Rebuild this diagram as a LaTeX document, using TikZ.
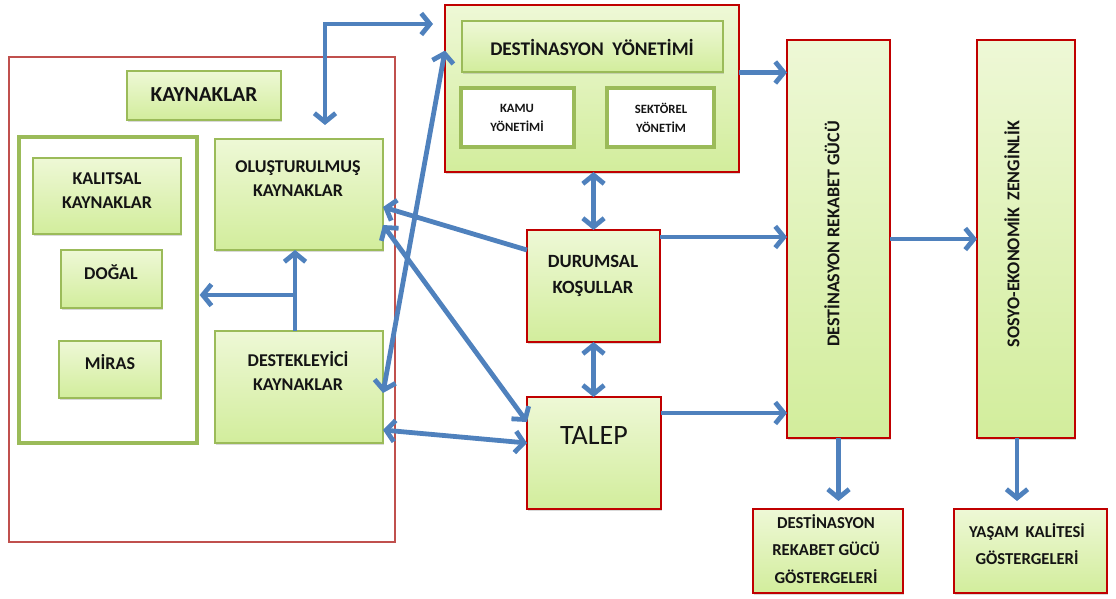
\documentclass[tikz,border=0pt]{standalone}
\usepackage{fontspec}
\setmainfont{Carlito}
\usetikzlibrary{arrows.meta,fit,shadows}
\definecolor{arrblue}{HTML}{4F81BD}
\definecolor{ogreen}{HTML}{9BBB59}
\definecolor{dred}{HTML}{C00000}
\definecolor{framec}{HTML}{C0504D}
\definecolor{gtop}{HTML}{EEF8D6}
\definecolor{gbot}{HTML}{D2ED9C}
\definecolor{txt}{HTML}{141414}
\tikzset{
  bh/.tip={Straight Barb[length=6.5pt,width=16pt]},
  base/.style={inner sep=0pt, outer sep=0pt, drop shadow={opacity=0.3,shadow xshift=0.8pt,shadow yshift=-1.8pt}},
  gbox/.style={base, draw=ogreen, line width=1.6pt, top color=gtop, bottom color=gbot},
  rbox/.style={base, draw=dred, line width=1.6pt, top color=gtop, bottom color=gbot},
  wbox/.style={inner sep=0pt, outer sep=0pt, draw=ogreen, line width=3.5pt, fill=white},
  framebox/.style={draw=framec, line width=1.2pt, inner sep=0pt, outer sep=0pt},
  lbl/.style={font=\bfseries\fontsize{13.5}{18}\selectfont, align=center, text=txt, inner sep=0pt},
  arr/.style={draw=arrblue, line width=3.6pt, -bh},
  barr/.style={draw=arrblue, line width=3.6pt, bh-bh},
}
\begin{document}
\begin{tikzpicture}[x=0.75pt,y=-0.75pt]
\useasboundingbox (0,0) rectangle (1116,599);
% boxes
\node[framebox, fit={(9,57) (395,542)}] (res) {};
\node[gbox, fit={(127,71) (281,120)}] (kay) {};
\node[wbox, fit={(19,137) (197,443)}] (inh) {};
\node[gbox, fit={(33,158) (181,234)}] (kal) {};
\node[gbox, fit={(61,250) (162,308)}] (dog) {};
\node[gbox, fit={(59,341) (161,398)}] (mir) {};
\node[gbox, fit={(215,139) (383,250)}] (olus) {};
\node[gbox, fit={(215,331) (383,443)}] (dest) {};
\node[rbox, fit={(445,5) (739,172)}] (dy) {};
\node[gbox, fit={(462,21) (723,72)}] (dyt) {};
\node[wbox, fit={(461,88) (574,147)}] (kamu) {};
\node[wbox, fit={(607,88) (714,147)}] (sek) {};
\node[rbox, fit={(527,230) (660,342)}] (dur) {};
\node[rbox, fit={(527,397) (661,509)}] (tal) {};
\node[rbox, fit={(787,40) (890,438)}] (drg) {};
\node[rbox, fit={(977,40) (1075,438)}] (sos) {};
\node[rbox, fit={(753,509) (903,593)}] (drgg) {};
\node[rbox, fit={(954,509) (1107,593)}] (yas) {};
% texts
\node[lbl, font=\bfseries\fontsize{16}{18}\selectfont] (tkay) at (204,95) {KAYNAKLAR};
\node[lbl] (tkal) at (107,191) {KALITSAL\\KAYNAKLAR};
\node[lbl] (tdog) at (111,272) {DOĞAL};
\node[lbl] (tmir) at (110,362) {MİRAS};
\node[lbl] (tolus) at (298,179) {OLUŞTURULMUŞ\\KAYNAKLAR};
\node[lbl] (tdest) at (298,371) {DESTEKLEYİCİ\\KAYNAKLAR};
\node[lbl, font=\bfseries\fontsize{14.5}{18}\selectfont] (tdy) at (592,47) {DESTİNASYON\hspace{.45em}YÖNETİMİ};
\node[lbl, font=\bfseries\fontsize{9.5}{14.5}\selectfont] (tkamu) at (517,118) {KAMU\\YÖNETİMİ};
\node[lbl, font=\bfseries\fontsize{9.5}{14.5}\selectfont] (tsek) at (661,118) {SEKTÖREL\\YÖNETİM};
\node[lbl, font=\bfseries\fontsize{14}{19}\selectfont] (tdur) at (593,276) {DURUMSAL\\KOŞULLAR};
\node[lbl, font=\fontsize{21}{24}\selectfont] (ttal) at (594,436) {TALEP};
\node[lbl, rotate=90] (tdrg) at (832,234) {DESTİNASYON REKABET GÜCÜ};
\node[lbl, rotate=90] (tsos) at (1012,234) {SOSYO-EKONOMİK\hspace{.4em}ZENGİNLİK};
\node[lbl, font=\bfseries\fontsize{12.5}{20.5}\selectfont] (tdrgg) at (826,549) {DESTİNASYON\\REKABET GÜCÜ\\GÖSTERGELERİ};
\node[lbl, font=\bfseries\fontsize{12.5}{20.5}\selectfont] (tyas) at (1027,544) {YAŞAM\hspace{.4em}KALİTESİ\\GÖSTERGELERİ};
% connectors
\coordinate (c1) at (325,24);
\draw[barr, shorten <=10.5pt, shorten >=9pt] (c1 |- olus.north) -- (c1) -- (c1 -| dy.west);
\coordinate (c2) at (295,295);
\draw[arr] (c2 |- dest.north) -- (c2 |- olus.south);
\draw[arr, shorten >=2pt] (c2) -- (c2 -| inh.east);
\coordinate (p3) at ([yshift=28.5pt]dy.west);
\draw[barr] (p3) -- ([yshift=-4.5pt]dest.east);
\draw[arr] ([yshift=27pt]dur.west) -- ([yshift=-9.4pt]olus.east);
\draw[barr] ([yshift=-22.9pt]olus.east) -- ([yshift=23.25pt]tal.west);
\draw[barr] ([yshift=-32.25pt]dest.east) -- ([yshift=7.5pt]tal.west);
\draw[barr] (dur.north) -- (dur.north |- dy.south);
\draw[barr] (dur.south) -- (dur.south |- tal.north);
\coordinate (p9) at ([yshift=12pt]dy.east);
\draw[arr] (p9) -- (p9 -| drg.west);
\coordinate (p10) at ([yshift=36.75pt]dur.east);
\draw[arr] (p10) -- (p10 -| drg.west);
\coordinate (p11) at ([yshift=30pt]tal.east);
\draw[arr] (p11) -- (p11 -| drg.west);
\draw[arr] (drg.east) -- (sos.west);
\draw[arr, shorten >=6pt] (drg.south) -- (drg.south |- drgg.north);
\coordinate (p14) at ([xshift=-6.75pt]sos.south);
\draw[arr, shorten >=6pt] (p14) -- (p14 |- yas.north);
\end{tikzpicture}
\end{document}
